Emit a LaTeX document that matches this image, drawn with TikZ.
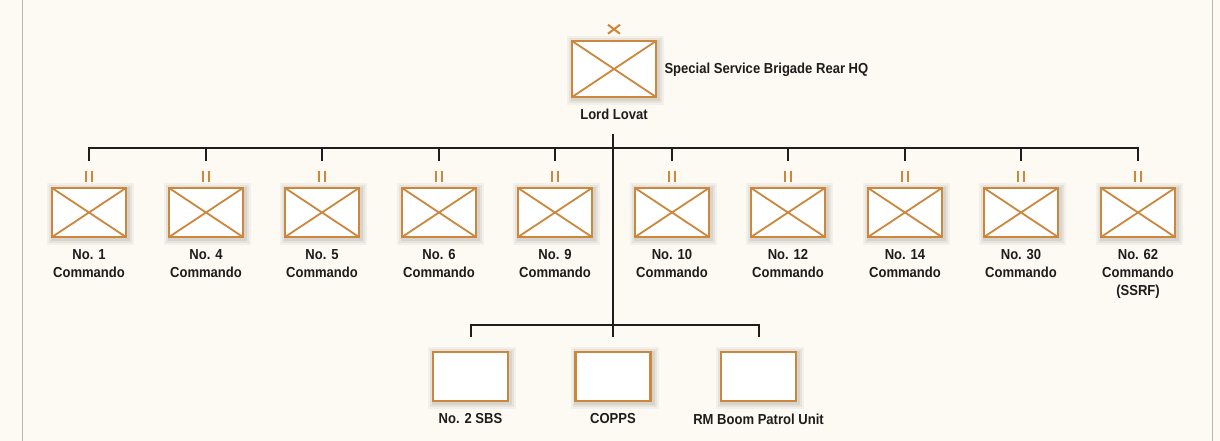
\documentclass[tikz,border=0pt]{standalone}
\usepackage{fontspec}
\setmainfont{Liberation Sans}[FakeStretch=0.9]
\usetikzlibrary{calc}
\definecolor{bgcream}{HTML}{FCFAF2}
\definecolor{unitorange}{HTML}{CD873D}
\definecolor{txtdark}{HTML}{1E1C1C}
\definecolor{framegray}{HTML}{B8B6B0}
\definecolor{shadowgray}{HTML}{5A5550}
\tikzset{
  unitbox/.style={draw=unitorange, line width=2.6pt, fill=white,
    minimum width=74pt, minimum height=49pt, inner sep=0pt,
    preaction={draw=shadowgray, draw opacity=0.06, line width=13pt, transform canvas={xshift=1.5pt, yshift=-1.5pt}},
    preaction={draw=shadowgray, draw opacity=0.08, line width=9pt, transform canvas={xshift=1.5pt, yshift=-1.5pt}},
    preaction={draw=shadowgray, draw opacity=0.10, line width=5.5pt, transform canvas={xshift=1.5pt, yshift=-1.5pt}}},
  crossbox/.style={unitbox,
    path picture={\draw[unitorange, line width=1.8pt]
      (path picture bounding box.north west) -- (path picture bounding box.south east)
      (path picture bounding box.south west) -- (path picture bounding box.north east);}},
  lab/.style={text=txtdark, font=\fontsize{14.5}{18}\selectfont\bfseries, align=center, inner sep=0pt},
  conn/.style={draw=txtdark, line width=2pt},
  echelon/.style={draw=unitorange, line width=2pt}
}
\begin{document}
\begin{tikzpicture}[x=1pt, y=-1pt]
\fill[bgcream] (0,0) rectangle (1220,441);
\useasboundingbox (0,0) rectangle (1220,441);
\draw[framegray, line width=1pt] (22,0) -- (22,441);
\draw[framegray, line width=1pt] (1212,0) -- (1212,441);

% HQ
\node[crossbox, minimum width=84pt, minimum height=56pt] (hq) at (614,69) {};
\draw[echelon] ($(hq.north)+(-6,-15)$) -- ($(hq.north)+(6,-6)$);
\draw[echelon] ($(hq.north)+(-6,-6)$) -- ($(hq.north)+(6,-15)$);
\node[lab, anchor=west] (hqname) at ($(hq.east)+(7,1)$) {Special Service Brigade Rear HQ};
\node[lab, anchor=north] (lovat) at ($(hq.south)+(0,10)$) {Lord Lovat};
\coordinate (trunktop) at ($(hq.south)+(-1,36)$);
\coordinate (bar) at (613,148);
\coordinate (bbar) at (613,325);

% Commandos
\foreach \i/\x/\txt in {1/89/{No. 1\\Commando}, 2/206/{No. 4\\Commando}, 3/322/{No. 5\\Commando},
  4/439/{No. 6\\Commando}, 5/555/{No. 9\\Commando}, 6/672/{No. 10\\Commando},
  7/788/{No. 12\\Commando}, 8/905/{No. 14\\Commando}, 9/1021/{No. 30\\Commando},
  10/1138/{No. 62\\Commando\\(SSRF)}}{
  \node[crossbox] (c\i) at (\x,212.5) {};
  \node[lab, anchor=north] (l\i) at ($(c\i.south)+(0,11)$) {\txt};
  \draw[echelon] ($(c\i.north)+(-3,-16)$) -- ($(c\i.north)+(-3,-5)$);
  \draw[echelon] ($(c\i.north)+(3,-16)$) -- ($(c\i.north)+(3,-5)$);
}

% connectors to commandos
\draw[conn] ($(c1.north)+(0,-26)$) |- (bar) -| ($(c10.north)+(0,-26)$);
\foreach \i in {2,...,9}{
  \draw[conn] (c\i.north |- bar) -- ($(c\i.north)+(0,-26)$);
}

% support units
\node[unitbox, minimum width=75pt] (s1) at (470.5,376.5) {};
\node[unitbox, minimum width=75pt] (s2) at (613,376.5) {};
\node[unitbox, minimum width=75pt] (s3) at (758.5,376.5) {};
\node[lab, anchor=north] (sl1) at ($(s1.south)+(0,11)$) {No. 2 SBS};
\node[lab, anchor=north] (sl2) at ($(s2.south)+(0,11)$) {COPPS};
\node[lab, anchor=north] (sl3) at ($(s3.south)+(0,11)$) {RM Boom Patrol Unit};

\draw[conn] (trunktop) -- ($(s2.north)+(0,-14)$);
\draw[conn] ($(s1.north)+(0,-14)$) |- (bbar) -| ($(s3.north)+(0,-14)$);
\end{tikzpicture}
\end{document}
